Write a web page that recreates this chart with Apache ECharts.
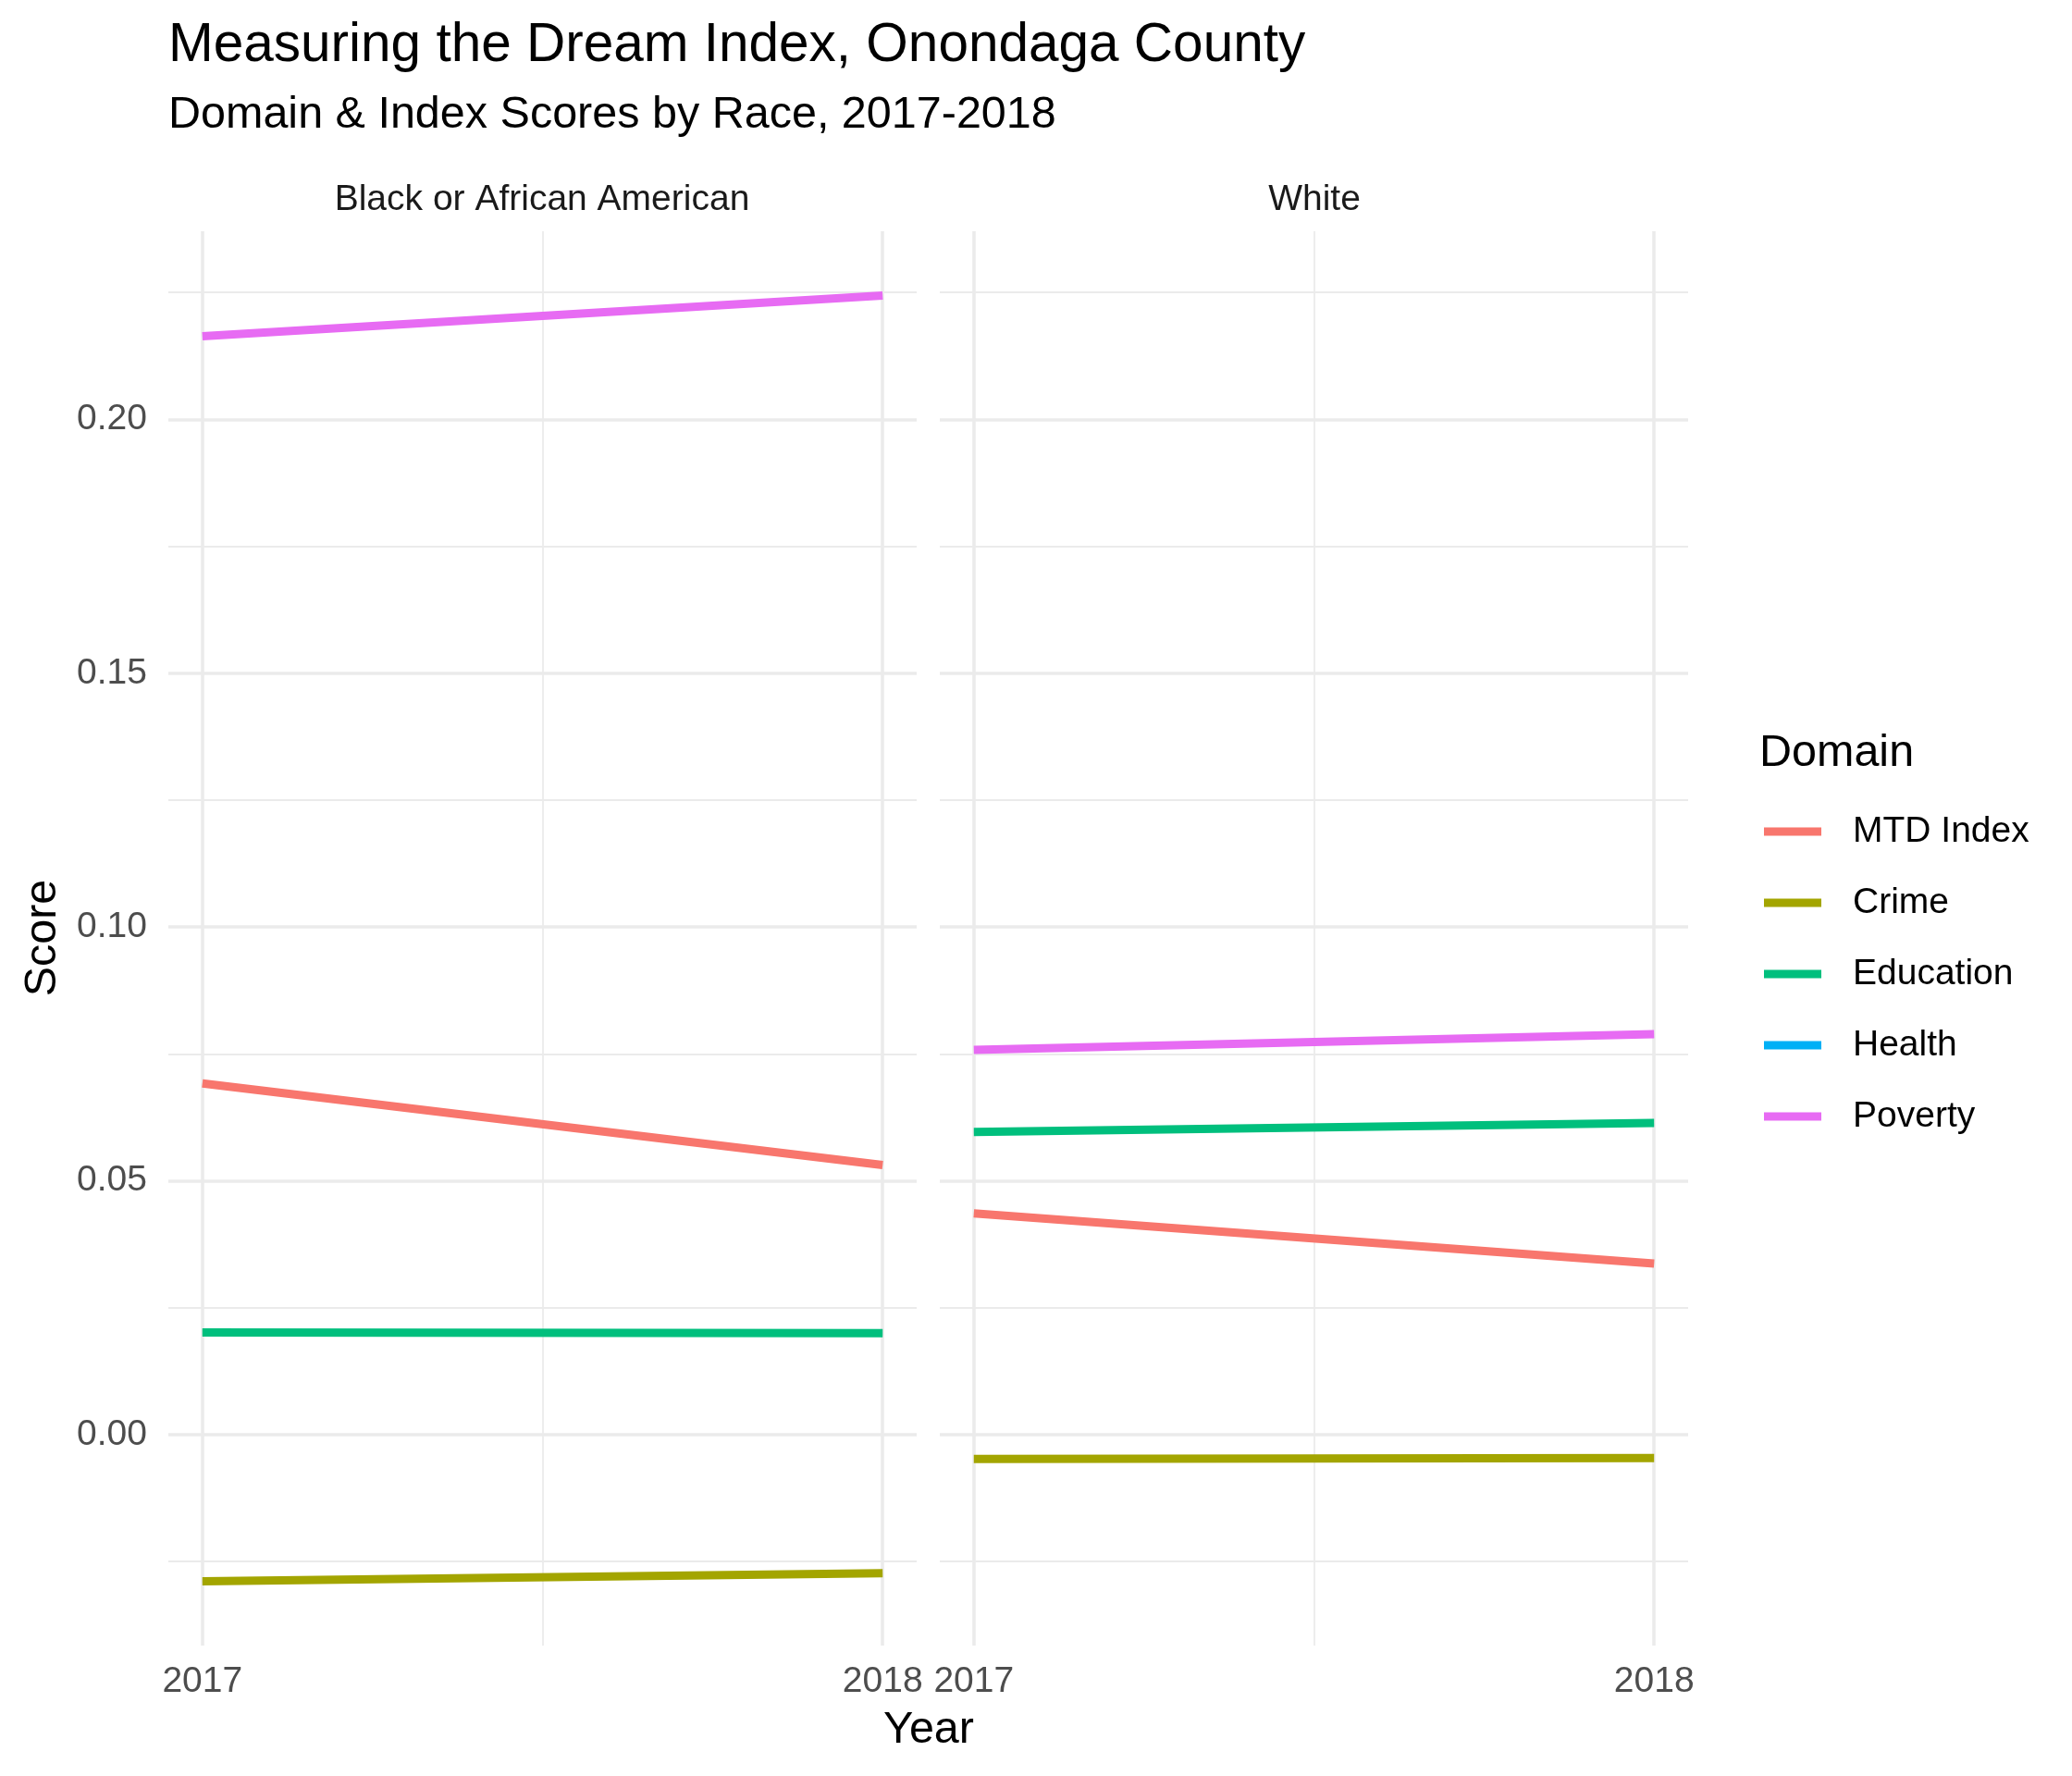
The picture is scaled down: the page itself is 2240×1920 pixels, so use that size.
<!DOCTYPE html>
<html>
<head>
<meta charset="utf-8">
<script src="https://cdn.jsdelivr.net/npm/echarts@6.0.0/dist/echarts.min.js"></script>
<style>
  html, body { margin: 0; padding: 0; background: #fff; }
  #main { width: 2240px; height: 1920px; }
</style>
</head>
<body>
<div id="main"></div>
<script>
// data
var years = [2017, 2018];
var domains = ['MTD Index', 'Crime', 'Education', 'Health', 'Poverty'];
var domainColors = ['#F8766D', '#A3A500', '#00BF7D', '#00B0F6', '#E76BF3'];
var panels = ['Black or African American', 'White'];

var blackMTD = [0.0692, 0.0531];
var blackCrime = [-0.0289, -0.0273];
var blackEducation = [0.0201, 0.0200];
var blackHealth = [];
var blackPoverty = [0.2164, 0.2244];

var whiteMTD = [0.0436, 0.0337];
var whiteCrime = [-0.0048, -0.0046];
var whiteEducation = [0.0596, 0.0614];
var whiteHealth = [];
var whitePoverty = [0.0758, 0.0789];

var yTicks = [0, 0.05, 0.10, 0.15, 0.20];
var yMinor = [-0.025, 0.025, 0.075, 0.125, 0.175, 0.225];
var xTicks = [2017, 2018];
var xMinor = [2017.5];

var panelData = [
  [blackMTD, blackCrime, blackEducation, blackHealth, blackPoverty],
  [whiteMTD, whiteCrime, whiteEducation, whiteHealth, whitePoverty]
];

// ggplot style 5% expansion
var all = [];
panelData.forEach(function (p) { p.forEach(function (s) { all = all.concat(s); }); });
var lo = Math.min.apply(null, all), hi = Math.max.apply(null, all);
var yMin = lo - (hi - lo) * 0.05, yMax = hi + (hi - lo) * 0.05;
var xMin = years[0] - 0.05, xMax = years[1] + 0.05;

var FONT = '"Liberation Sans", Arial, sans-serif';
var GRID = '#EBEBEB';
var gridBoxes = [
  { left: 182, top: 250, width: 809, height: 1529 },
  { left: 1016, top: 250, width: 809, height: 1529 }
];

var chartDom = document.getElementById('main');
var myChart = echarts.init(chartDom, null, { renderer: 'canvas' });

var xAxes = [], yAxes = [], series = [];
gridBoxes.forEach(function (g, i) {
  xAxes.push({
    type: 'value', gridIndex: i, min: xMin, max: xMax,
    axisLine: { show: false }, axisTick: { show: false }, splitLine: { show: false },
    axisLabel: {
      customValues: xTicks, margin: 20, color: '#4D4D4D',
      fontSize: 39, fontFamily: FONT,
      formatter: function (v) { return String(Math.round(v)); }
    }
  });
  yAxes.push({
    type: 'value', gridIndex: i, min: yMin, max: yMax,
    axisLine: { show: false }, axisTick: { show: false }, splitLine: { show: false },
    axisLabel: {
      show: i === 0, customValues: yTicks, margin: 23, color: '#4D4D4D',
      fontSize: 39, fontFamily: FONT,
      formatter: function (v) { return v.toFixed(2); }
    }
  });

  // background grid drawn as mark lines
  var lines = [];
  yTicks.forEach(function (v) { lines.push({ yAxis: v, lineStyle: { width: 3.6 } }); });
  yMinor.forEach(function (v) { lines.push({ yAxis: v, lineStyle: { width: 1.8 } }); });
  xTicks.forEach(function (v) { lines.push({ xAxis: v, lineStyle: { width: 3.6 } }); });
  xMinor.forEach(function (v) { lines.push({ xAxis: v, lineStyle: { width: 1.8 } }); });
  series.push({
    type: 'line', xAxisIndex: i, yAxisIndex: i, data: [], z: 0, silent: true,
    markLine: {
      silent: true, symbol: 'none', animation: false, precision: 6,
      label: { show: false },
      lineStyle: { color: GRID, type: 'solid' },
      emphasis: { disabled: true },
      data: lines
    }
  });

  domains.forEach(function (name, k) {
    series.push({
      name: name, type: 'line', xAxisIndex: i, yAxisIndex: i, z: 5,
      showSymbol: false, animation: false,
      color: domainColors[k],
      lineStyle: { width: 9, color: domainColors[k] },
      data: panelData[i][k].map(function (v, j) { return [years[j], v]; })
    });
  });
});

var texts = [
  { x: 182, y: 50, text: 'Measuring the Dream Index, Onondaga County', size: 58.5, color: '#000', align: 'left' },
  { x: 182, y: 125, text: 'Domain & Index Scores by Race, 2017-2018', size: 48.5, color: '#000', align: 'left' },
  { x: 586, y: 216, text: panels[0], size: 39, color: '#1A1A1A', align: 'center' },
  { x: 1421, y: 216, text: panels[1], size: 39, color: '#1A1A1A', align: 'center' },
  { x: 1004, y: 1871, text: 'Year', size: 48.5, color: '#000', align: 'center' },
  { x: 1902, y: 815, text: 'Domain', size: 48.5, color: '#000', align: 'left' }
];
var graphics = texts.map(function (t) {
  return {
    type: 'text', x: t.x, y: t.y, silent: true,
    style: { text: t.text, fontSize: t.size, fontFamily: FONT, fill: t.color, align: t.align, verticalAlign: 'middle' }
  };
});
graphics.push({
  type: 'text', x: 47, y: 1014, rotation: Math.PI / 2, silent: true,
  style: { text: 'Score', fontSize: 48.5, fontFamily: FONT, fill: '#000', align: 'center', verticalAlign: 'middle' }
});

var option = {
  backgroundColor: '#fff',
  animation: false,
  grid: gridBoxes,
  xAxis: xAxes,
  yAxis: yAxes,
  legend: {
    data: domains, orient: 'vertical', left: 1907, top: 879, padding: 0,
    icon: 'rect', itemWidth: 62, itemHeight: 9, itemGap: 37,
    selectedMode: false,
    textStyle: { fontSize: 39, fontFamily: FONT, color: '#000', lineHeight: 40, padding: [0, 0, 0, 29] }
  },
  graphic: graphics,
  series: series
};
myChart.setOption(option);
</script>
</body>
</html>
